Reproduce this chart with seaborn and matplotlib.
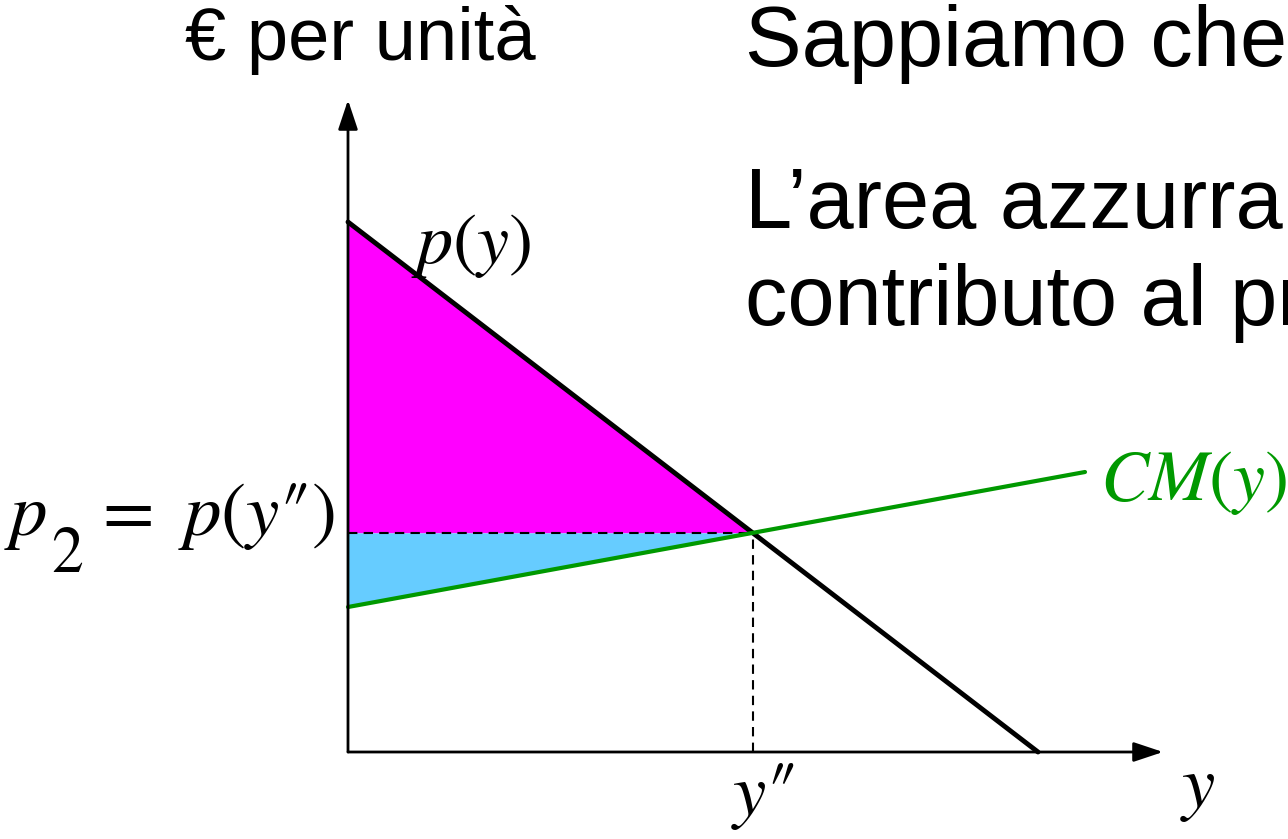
import matplotlib
matplotlib.use("Agg")
import matplotlib.pyplot as plt
import seaborn as sns
import numpy as np

# curve data (economic units: quantity y, euro per unit)
demand_y = [0.0, 6.90]
demand_p = [5.30, 0.0]
cm_y = [0.0, 7.37]
cm_p = [1.45, 2.80]
axis_ends = [8.15, 6.52]   # x arrow end, y arrow end

# intersection p(y'') = CM(y'')
d_slope = (demand_p[1] - demand_p[0]) / (demand_y[1] - demand_y[0])
c_slope = (cm_p[1] - cm_p[0]) / (cm_y[1] - cm_y[0])
y2 = (demand_p[0] - cm_p[0]) / (c_slope - d_slope)
p2 = demand_p[0] + d_slope * y2

sns.set_theme(style="white")
plt.rcParams['font.family'] = ['Liberation Sans', 'DejaVu Sans']
plt.rcParams['mathtext.fontset'] = 'stix'
plt.rcParams['text.color'] = 'black'

fig = plt.figure(figsize=(12.88, 8.39), dpi=100)
ax = fig.add_axes([0, 0, 1, 1])
ax.set_xlim(-3.48, 9.40)
ax.set_ylim(-0.87, 7.52)
ax.axis('off')

# shaded areas
xs = np.linspace(0, y2, 50)
ax.fill_between(xs, p2, demand_p[0] + d_slope * xs, color='#FF00FF', lw=0)
ax.fill_between(xs, cm_p[0] + c_slope * xs, p2, color='#66CCFF', lw=0)

# axes with arrows
arrow = dict(arrowstyle='-|>,head_length=0.9,head_width=0.3', lw=2, color='black',
             shrinkA=0, shrinkB=0, mutation_scale=20)
ax.annotate('', xy=(axis_ends[0], 0), xytext=(0, 0), arrowprops=arrow)
ax.annotate('', xy=(0, axis_ends[1]), xytext=(0, 0), arrowprops=arrow)

# dashed guides
ax.plot([0, y2], [p2, p2], color='black', lw=1.5, ls=(0, (4.5, 3)))
ax.plot([y2, y2], [0, p2], color='black', lw=1.5, ls=(0, (4.5, 3)))

# curves
sns.lineplot(x=demand_y, y=demand_p, ax=ax, color='black', lw=3.5)
sns.lineplot(x=cm_y, y=cm_p, ax=ax, color='#009900', lw=3)

# math labels
ax.text(0.63, 4.89, r'$p(y)$', fontsize=52, va='baseline', ha='left')
ax.text(-0.14, 2.17, r'$=\ p(y″)$', fontsize=54, va='baseline', ha='right')
ax.text(-3.44, 2.17, r'$p$', fontsize=54, va='baseline', ha='left')
ax.text(-2.97, 1.80, r'$\mathrm{2}$', fontsize=46, va='baseline', ha='left')
ax.text(7.52, 2.52, r'$CM(y)$', fontsize=52, va='baseline', ha='left', color='#009900')
ax.text(y2 - 0.22, -0.63, r'$y″$', fontsize=54, va='baseline', ha='left')
ax.text(8.32, -0.55, r'$y$', fontsize=54, va='baseline', ha='left')

# texts
fig.text(185 / 1288, 1 - 60 / 839, '€ per unità', fontsize=53.5, va='baseline')
fig.text(745 / 1288, 1 - 66 / 839, 'Sappiamo che', fontsize=61, va='baseline')
fig.text(745 / 1288, 1 - 228 / 839, 'L’area azzurra', fontsize=61, va='baseline')
fig.text(745 / 1288, 1 - 325 / 839, 'contributo al pr', fontsize=61, va='baseline')

fig.savefig('out.png', dpi=100, facecolor='white')
